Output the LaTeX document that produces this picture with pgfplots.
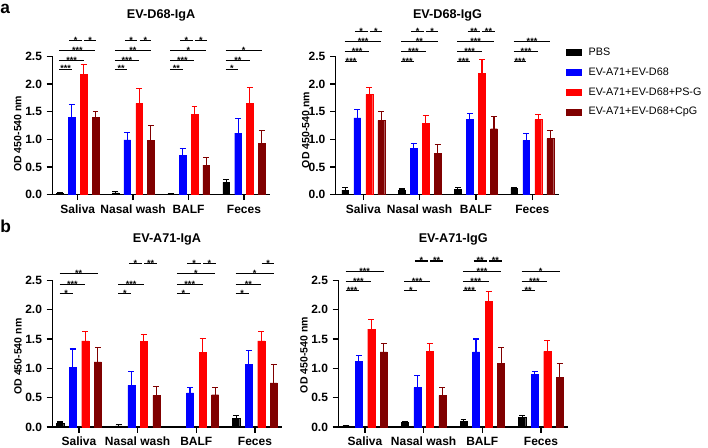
\documentclass[border=0pt]{standalone}
\usepackage{fontspec}
\setmainfont{Liberation Sans}
\usepackage{pgfplots}
\usepackage{pgfplotstable}
\pgfplotsset{compat=1.18}
\definecolor{cP}{RGB}{0,0,0}
\definecolor{cB}{RGB}{0,0,255}
\definecolor{cR}{RGB}{255,0,0}
\definecolor{cD}{RGB}{128,0,0}

% EV-D68-IgA
\pgfplotstableread{
x p pe b be r re d de
0 0.02 0.01 1.39 0.24 2.18 0.17 1.39 0.12
1 0.03 0.02 0.99 0.14 1.65 0.26 0.98 0.27
2 0.01 0.005 0.715 0.12 1.45 0.14 0.53 0.14
3 0.22 0.06 1.11 0.27 1.65 0.29 0.92 0.23
}\tA
% EV-D68-IgG
\pgfplotstableread{
x p pe b be r re d de
0 0.08 0.05 1.385 0.145 1.81 0.13 1.34 0.17
1 0.07 0.03 0.83 0.09 1.29 0.14 0.75 0.16
2 0.10 0.03 1.36 0.11 2.19 0.25 1.19 0.22
3 0.11 0.02 0.98 0.13 1.355 0.095 1.01 0.15
}\tB
% EV-A71-IgA
\pgfplotstableread{
x p pe b be r re d de
0 0.06 0.025 1.02 0.31 1.47 0.16 1.11 0.24
1 0.02 0.015 0.71 0.23 1.46 0.12 0.54 0.15
2 0.004 0.002 0.58 0.09 1.27 0.24 0.55 0.12
3 0.15 0.04 1.07 0.24 1.47 0.16 0.75 0.32
}\tC
% EV-A71-IgG
\pgfplotstableread{
x p pe b be r re d de
0 0.02 0.01 1.12 0.10 1.67 0.17 1.28 0.14
1 0.08 0.01 0.67 0.20 1.29 0.14 0.54 0.14
2 0.10 0.025 1.28 0.22 2.14 0.17 1.08 0.27
3 0.165 0.035 0.90 0.05 1.29 0.18 0.845 0.245
}\tD

\newcommand\sig[5]{\draw[line width=0.8pt] (axis cs:{#1+(#2)},#4) -- (axis cs:{#1+(#3)},#4) node[midway,anchor=base,yshift=-2.2pt,inner sep=0pt,font=\bfseries\fontsize{6.8}{6.8}\selectfont]{#5};}
\newcommand\sPB[3]{\sig{#1}{-0.33}{-0.107}{#2}{#3}}
\newcommand\sPR[3]{\sig{#1}{-0.33}{0.107}{#2}{#3}}
\newcommand\sPD[3]{\sig{#1}{-0.33}{0.32}{#2}{#3}}
\newcommand\sBR[3]{\sig{#1}{-0.15}{0.075}{#2}{#3}}
\newcommand\sRD[3]{\sig{#1}{0.115}{0.33}{#2}{#3}}

\pgfplotsset{
 myax/.style={
  scale only axis, anchor=south west, clip=false,
  axis lines=left, axis line style={-, line width=1pt},
  ymin=0, ymax=2.5, ytick={0,0.5,1,1.5,2,2.5},
  xtick={0,1,2,3}, xticklabels={Saliva,Nasal wash,BALF,Feces},
  tick align=outside, major tick length=4.2pt, tick style={line width=1pt, black},
  ybar, bar width=0.12,
  yticklabel style={/pgf/number format/.cd, fixed, fixed zerofill, precision=1, assume math mode=true},
  ticklabel style={font=\bfseries\fontsize{9}{10}\selectfont},
  xticklabel style={text height=6.5pt, text depth=2pt},
  ylabel={OD 450-540 nm},
  ylabel style={font=\bfseries\fontsize{7.9}{9}\selectfont, anchor=center},
  title style={font=\bfseries\fontsize{9.5}{11}\selectfont, at={(axis description cs:0.5,1)}, anchor=base, yshift=22.4pt},
 },
 ebar/.style={
   /pgfplots/error bars/y dir=plus, /pgfplots/error bars/y explicit,
   /pgfplots/error bars/error bar style={draw=#1, line width=0.8pt},
   /pgfplots/error bars/error mark options={rotate=90, draw=#1, mark size=2.2pt, line width=0.8pt}},
 pP/.style={fill=cP, draw=cP, line width=0.3pt, bar shift=-0.32, ebar=cP},
 pB/.style={fill=cB, draw=cB, line width=0.3pt, bar shift=-0.107, ebar=cB},
 pR/.style={fill=cR, draw=cR, line width=0.3pt, bar shift=0.107, ebar=cR},
 pD/.style={fill=cD, draw=cD, line width=0.3pt, bar shift=0.32, ebar=cD},
}
\newcommand\legimg[1]{\addlegendimage{legend image code/.code={\fill[#1] (0pt,-2.25pt) rectangle (11.5pt,2.25pt); \path (14.5pt,0pt);}}}

\begin{document}
\begin{tikzpicture}
\useasboundingbox (0,0) rectangle (531pt,-336pt);

\node[anchor=base west, inner sep=0pt, font=\bfseries\fontsize{13}{13}\selectfont] at (0pt,-10pt) {a};
\node[anchor=base west, inner sep=0pt, font=\bfseries\fontsize{13}{13}\selectfont] at (0pt,-174.75pt) {b};

% a-left
\begin{axis}[myax, at={(39.2pt,-145.9pt)}, width=163.3pt, height=103.65pt,
  xmin=-0.46, xmax=3.47, title={EV-D68-IgA},
  ylabel style={at={(axis description cs:-0.159,0.44)}}]
\addplot[pP] table[x=x, y=p, y error=pe] {\tA};
\addplot[pB] table[x=x, y=b, y error=be] {\tA};
\addplot[pR] table[x=x, y=r, y error=re] {\tA};
\addplot[pD] table[x=x, y=d, y error=de] {\tA};
\sPB{0}{2.27}{***} \sPR{0}{2.43}{***} \sPD{0}{2.60}{***} \sBR{0}{2.79}{*} \sRD{0}{2.79}{*}
\sPB{1}{2.27}{**} \sPR{1}{2.43}{***} \sPD{1}{2.60}{**} \sBR{1}{2.79}{*} \sRD{1}{2.79}{*}
\sPB{2}{2.27}{**} \sPR{2}{2.43}{***} \sPD{2}{2.60}{*} \sBR{2}{2.79}{*} \sRD{2}{2.79}{*}
\sPB{3}{2.27}{*} \sPR{3}{2.43}{**} \sPD{3}{2.60}{*}
\end{axis}

% a-right
\begin{axis}[myax, at={(251.8pt,-145.9pt)}, width=167.7pt, height=103.65pt,
  xmin=-0.49, xmax=3.48, title={EV-D68-IgG},
  ylabel style={at={(axis description cs:-0.134,0.467)}},
  legend style={at={(axis description cs:1.029,1.082)}, anchor=north west, draw=none, fill=none,
    inner sep=0pt, row sep=3.7pt, font=\fontsize{8.1}{9}\selectfont},
  legend cell align=left]
\addplot[forget plot, pP] table[x=x, y=p, y error=pe] {\tB};
\addplot[forget plot, pB] table[x=x, y=b, y error=be] {\tB};
\addplot[forget plot, pR] table[x=x, y=r, y error=re] {\tB};
\addplot[forget plot, pD] table[x=x, y=d, y error=de] {\tB};
\legimg{cP}\addlegendentry{PBS}
\legimg{cB}\addlegendentry{EV-A71+EV-D68}
\legimg{cR}\addlegendentry{EV-A71+EV-D68+PS-G}
\legimg{cD}\addlegendentry{EV-A71+EV-D68+CpG}
\sPB{0}{2.41}{***} \sPR{0}{2.58}{***} \sPD{0}{2.77}{***} \sBR{0}{2.95}{*} \sRD{0}{2.95}{*}
\sPB{1}{2.41}{***} \sPR{1}{2.58}{***} \sPD{1}{2.77}{**} \sBR{1}{2.95}{*} \sRD{1}{2.95}{*}
\sPB{2}{2.41}{***} \sPR{2}{2.58}{***} \sPD{2}{2.77}{***} \sBR{2}{2.95}{**} \sRD{2}{2.95}{**}
\sPB{3}{2.41}{***} \sPR{3}{2.58}{***} \sPD{3}{2.77}{***}
\end{axis}

% b-left
\begin{axis}[myax, at={(39.2pt,-320.25pt)}, width=172.05pt, height=110pt,
  xmin=-0.455, xmax=3.455, title={EV-A71-IgA},
  ylabel style={at={(axis description cs:-0.149,0.48)}}]
\addplot[pP] table[x=x, y=p, y error=pe] {\tC};
\addplot[pB] table[x=x, y=b, y error=be] {\tC};
\addplot[pR] table[x=x, y=r, y error=re] {\tC};
\addplot[pD] table[x=x, y=d, y error=de] {\tC};
\sPB{0}{2.27}{*} \sPR{0}{2.43}{***} \sPD{0}{2.62}{**}
\sPB{1}{2.27}{*} \sPR{1}{2.43}{***} \sBR{1}{2.79}{*} \sRD{1}{2.79}{**}
\sPB{2}{2.27}{*} \sPR{2}{2.43}{***} \sPD{2}{2.62}{*} \sBR{2}{2.79}{*} \sRD{2}{2.79}{*}
\sPB{3}{2.27}{*} \sPR{3}{2.43}{**} \sPD{3}{2.62}{*} \sRD{3}{2.79}{*}
\end{axis}

% b-right
\begin{axis}[myax, at={(253.7pt,-320.25pt)}, width=172.5pt, height=110pt,
  xmin=-0.455, xmax=3.465, title={EV-A71-IgG},
  ylabel style={at={(axis description cs:-0.149,0.49)}}]
\addplot[pP] table[x=x, y=p, y error=pe] {\tD};
\addplot[pB] table[x=x, y=b, y error=be] {\tD};
\addplot[pR] table[x=x, y=r, y error=re] {\tD};
\addplot[pD] table[x=x, y=d, y error=de] {\tD};
\sPB{0}{2.32}{***} \sPR{0}{2.48}{***} \sPD{0}{2.65}{***}
\sPB{1}{2.32}{*} \sPR{1}{2.48}{***} \sBR{1}{2.83}{*} \sRD{1}{2.83}{**}
\sPB{2}{2.32}{***} \sPR{2}{2.48}{***} \sPD{2}{2.65}{***} \sBR{2}{2.83}{**} \sRD{2}{2.83}{**}
\sPB{3}{2.32}{**} \sPR{3}{2.48}{***} \sPD{3}{2.65}{*}
\end{axis}
\end{tikzpicture}
\end{document}
